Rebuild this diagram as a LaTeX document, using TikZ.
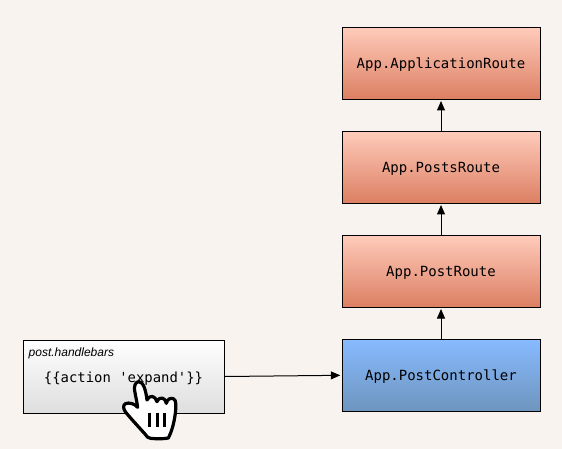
\documentclass[tikz,border=0pt]{standalone}
\usepackage{fontspec}
\setmainfont{Liberation Sans}
\newfontfamily\menlo{DejaVu Sans Mono}
\usetikzlibrary{arrows.meta}
\definecolor{bgc}{HTML}{F8F3EF}
\definecolor{rtop}{HTML}{FFCBBB}
\definecolor{rbot}{HTML}{DC7F62}
\definecolor{btop}{HTML}{87BAFF}
\definecolor{bbot}{HTML}{6E95BE}
\tikzset{
  classbox/.style={draw=black,line width=1pt,minimum width=198pt,minimum height=72pt,inner sep=0pt,text height=13pt,text depth=3pt,font=\menlo\fontsize{14}{16}\selectfont,text=black},
  routebox/.style={classbox,top color=rtop,bottom color=rbot},
  ctrlbox/.style={classbox,top color=btop,bottom color=bbot},
  tmplbox/.style={draw=black,line width=1pt,minimum width=201pt,minimum height=73pt,inner sep=0pt,top color=white,bottom color=black!13},
  link/.style={draw=black,line width=1pt,shorten >=1.2pt,-{Stealth[length=9.5pt,width=8pt,inset=0pt]}},
  handline/.style={draw=black,line width=3.2pt,line join=round,line cap=round}
}
\begin{document}
\begin{tikzpicture}[x=1pt,y=-1pt]
\useasboundingbox[fill=bgc] (0,0) rectangle (562,449);
\node[routebox] (app) at (441,63.3) {App.ApplicationRoute};
\node[routebox] (posts) at (441,167.3) {App.PostsRoute};
\node[routebox] (post) at (441,271.3) {App.PostRoute};
\node[ctrlbox] (ctrl) at (441,375.3) {App.PostController};
\node[tmplbox] (tmpl) at (123.8,376.5) {};
\node[anchor=base west,inner sep=0pt,font=\itshape\fontsize{12}{14}\selectfont] (tname) at (28.5,356) {post.handlebars};
\node[inner sep=0pt,text height=13pt,text depth=3pt,font=\menlo\fontsize{13.9}{16}\selectfont,text=black] (action) at (123.5,377) {\{\{action 'expand'\}\}};
\draw[link] (tmpl.east) -- (ctrl.west);
\draw[link] (ctrl.north) -- (post.south);
\draw[link] (post.north) -- (posts.south);
\draw[link] (posts.north) -- (app.south);
% hand cursor
\begin{scope}[shift={(100,370)},x=0.3333pt,y=-0.3333pt]
\draw[handline,fill=white] (117,35)
  .. controls (105,35) and (102,50) .. (104,62)
  .. controls (106,75) and (110,90) .. (113,112)
  .. controls (105,102) and (88,96) .. (76,101)
  .. controls (68,106) and (70,118) .. (78,128)
  .. controls (95,148) and (115,170) .. (135,192)
  .. controls (140,200) and (145,205) .. (152,205)
  .. controls (170,207) and (190,207) .. (205,204)
  .. controls (215,185) and (222,160) .. (226,130)
  .. controls (228,110) and (230,90) .. (220,86)
  .. controls (210,83) and (202,88) .. (199,100)
  .. controls (197,84) and (180,76) .. (171,95)
  .. controls (166,76) and (148,74) .. (141,90)
  .. controls (138,65) and (131,35) .. (117,35) -- cycle;
\draw[black,line width=2.8pt] (149,128) -- (149,170) (172,128) -- (172,170) (194,128) -- (194,170);
\end{scope}
\end{tikzpicture}
\end{document}
